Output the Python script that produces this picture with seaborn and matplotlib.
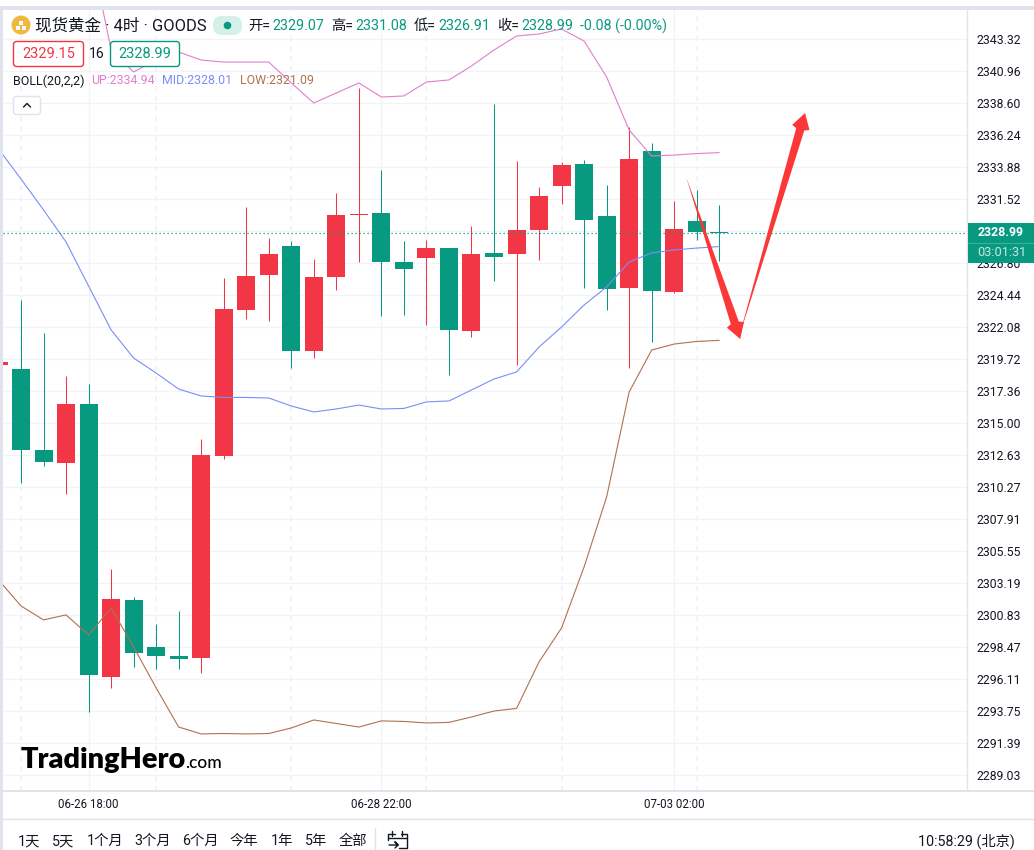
import numpy as np
import pandas as pd
import matplotlib.pyplot as plt
import seaborn as sns
from matplotlib.lines import Line2D
from matplotlib.patches import Circle, FancyBboxPatch, Polygon, Rectangle
from matplotlib.transforms import Affine2D, IdentityTransform

# --- data: 4h XAUUSD candles, oldest first (first one is cut by the left edge) ---
candle_idx = list(range(-1, 32))
opens = [2319.27, 2318.98, 2313.00, 2312.05, 2316.40, 2296.26, 2301.94, 2298.47, 2297.81, 2297.66, 2312.56,
         2323.33, 2325.91, 2328.05, 2320.31, 2325.77, 2330.34, 2330.49, 2326.87, 2327.17, 2327.90, 2321.78,
         2327.54, 2327.46, 2329.23, 2332.48, 2334.10, 2330.27, 2324.95, 2335.06, 2324.66, 2329.90, 2329.07]
highs = [2319.50, 2324.07, 2321.63, 2318.46, 2317.87, 2304.23, 2302.16, 2300.17, 2301.13, 2313.82, 2325.69,
         2330.93, 2328.64, 2328.42, 2327.09, 2331.96, 2339.71, 2333.66, 2328.42, 2328.49, 2327.90, 2329.53,
         2338.53, 2334.32, 2332.40, 2334.25, 2334.40, 2332.55, 2336.83, 2335.65, 2331.37, 2332.18, 2331.08]
lows = [2319.27, 2310.57, 2311.82, 2309.76, 2293.68, 2295.45, 2297.00, 2296.85, 2296.85, 2296.56, 2312.34,
        2322.67, 2322.52, 2319.05, 2319.79, 2324.81, 2326.87, 2322.89, 2322.96, 2322.23, 2318.54, 2321.34,
        2325.47, 2319.27, 2327.02, 2331.15, 2324.95, 2323.33, 2319.05, 2320.97, 2324.59, 2328.50, 2326.91]
closes = [2319.50, 2313.00, 2312.12, 2316.40, 2296.41, 2302.02, 2298.03, 2297.81, 2297.59, 2312.64, 2323.41,
          2325.84, 2327.46, 2320.31, 2325.77, 2330.34, 2330.41, 2326.87, 2326.36, 2327.90, 2321.86, 2327.46,
          2327.24, 2329.23, 2331.74, 2334.03, 2329.97, 2324.88, 2334.47, 2324.73, 2329.31, 2329.09, 2328.99]

# Bollinger bands, upper one is above the window for the first candles
boll_up = [np.nan, np.nan, np.nan, np.nan, 2350.62, 2342.51, 2340.89, 2341.77, 2342.36, 2341.77, 2341.62,
           2341.62, 2341.62, 2340.08, 2338.60, 2339.34, 2340.08, 2339.04, 2339.12, 2340.15, 2340.30, 2341.33,
           2342.51, 2343.54, 2343.69, 2344.06, 2343.17, 2340.52, 2336.61, 2334.69, 2334.76, 2334.87, 2334.94]
boll_mid = [2335.21, 2332.99, 2330.71, 2328.35, 2325.10, 2321.86, 2319.79, 2318.68, 2317.50, 2316.99, 2316.88,
            2316.88, 2316.84, 2316.25, 2315.81, 2316.03, 2316.32, 2316.03, 2316.07, 2316.55, 2316.62, 2317.43,
            2318.24, 2318.76, 2320.60, 2322.08, 2323.70, 2325.03, 2326.87, 2327.54, 2327.76, 2327.90, 2328.01]
boll_low = [2303.42, 2301.50, 2300.47, 2300.84, 2299.36, 2301.35, 2298.47, 2295.45, 2292.57, 2292.06, 2292.09,
            2292.06, 2292.09, 2292.50, 2293.09, 2292.83, 2292.57, 2293.02, 2292.98, 2292.87, 2292.91, 2293.31,
            2293.75, 2293.94, 2297.37, 2299.88, 2304.38, 2309.54, 2317.28, 2320.38, 2320.82, 2321.01, 2321.09]

y_ticks = [2343.32, 2340.96, 2338.60, 2336.24, 2333.88, 2331.52, 2329.16, 2326.80, 2324.44, 2322.08, 2319.72,
           2317.36, 2315.00, 2312.63, 2310.27, 2307.91, 2305.55, 2303.19, 2300.83, 2298.47, 2296.11, 2293.75,
           2291.39, 2289.03]
# 2329.16 sits behind the price tag, only its grid line shows
hidden_tick = 2329.16
x_tick_idx = [3, 16, 29]
x_tick_labels = ['06-26 18:00', '06-28 22:00', '07-03 02:00']
day_idx = [0, 6, 12, 18, 24, 30]
last_price = 2328.99

# hand drawn red arrows: (candle index, price)
arrow_down = [(29.53, 2333.14), (31.93, 2321.19)]
arrow_up = [(31.88, 2321.34), (34.81, 2337.86)]

ohlc_labels = ['开=', '高=', '低=', '收=']
ohlc_values = ['2329.07', '2331.08', '2326.91', '2328.99']
range_buttons = ['1天', '5天', '1个月', '3个月', '6个月', '今年', '1年', '5年', '全部']

RED = '#f23645'
GREEN = '#089981'
PINK = '#e07fcd'
BLUE = '#7b8ef7'
BROWN = '#b0714e'
GRID = '#f1f3f8'
FRAME = '#e0e3eb'
TXT = '#131722'

sns.set_theme(style='white')
plt.rcParams['font.family'] = ['Roboto', 'Noto Sans CJK SC', 'DejaVu Sans']

W, H = 1034, 850
fig = plt.figure(figsize=(W / 100, H / 100), dpi=100)
# image pixels, y going down
px = Affine2D().scale(1, -1).translate(0, H) + IdentityTransform()

ax = fig.add_axes([3 / W, (H - 791) / H, 964 / W, 781 / H])
ax.set_xlim(-0.8, 42.0)
ax.set_ylim(2287.85, 2345.46)
ax.set_axisbelow(True)

# grid and day separators
ax.set_yticks(y_ticks)
ax.set_yticklabels(['' if v == hidden_tick else '%.2f' % v for v in y_ticks])
ax.set_xticks(x_tick_idx)
ax.set_xticklabels(x_tick_labels)
ax.grid(True, color=GRID, lw=0.9)
for d in day_idx:
    ax.axvline(d, color=GRID, lw=1.5, ls=(0, (2.4, 2.4)), zorder=0.6)
ax.yaxis.tick_right()
ax.tick_params(axis='y', length=0, pad=7, labelsize=8.8, labelcolor=TXT)
ax.tick_params(axis='x', length=0, pad=5, labelsize=8.3, labelcolor=TXT)
for s in ['top', 'left']:
    ax.spines[s].set_visible(False)
ax.spines['right'].set_color(FRAME)
ax.spines['bottom'].set_color(FRAME)
ax.spines['bottom'].set_linewidth(1.4)
ax.spines['right'].set_linewidth(1.0)

# candles
df = pd.DataFrame({'idx': candle_idx, 'open': opens, 'high': highs, 'low': lows, 'close': closes})
df['color'] = np.where(df['close'] >= df['open'], RED, GREEN)
ax.vlines(df['idx'], df['low'], df['high'], colors=df['color'], lw=0.75, zorder=2)
ax.bar(df['idx'], (df['close'] - df['open']).abs(), bottom=df[['open', 'close']].min(axis=1),
       width=0.8, color=df['color'], linewidth=0, zorder=2.1)

# bollinger lines
bands = pd.DataFrame({'idx': candle_idx, 'UP': boll_up, 'MID': boll_mid, 'LOW': boll_low})
bands = bands.melt(id_vars='idx', var_name='band', value_name='price').dropna()
sns.lineplot(data=bands, x='idx', y='price', hue='band', estimator=None, legend=False,
             palette={'UP': PINK, 'MID': BLUE, 'LOW': BROWN}, lw=0.8, zorder=3, ax=ax)
ax.set_xlabel('')
ax.set_ylabel('')
ax.set_xlim(-0.8, 42.0)
ax.set_ylim(2287.85, 2345.46)

# last price line
ax.axhline(last_price, color=GREEN, lw=0.9, ls=(0, (1, 2.2)), zorder=3.2)


def tapered_arrow(start, tip, head_len=17, head_half=9, shaft_half=4.2):
    p0, p1 = ax.transData.transform([start, tip])
    d = (p1 - p0) / np.linalg.norm(p1 - p0)
    n = np.array([-d[1], d[0]])
    base = p1 - d * head_len
    neck = p1 - d * (head_len - 2)
    pts = [p0, base + n * shaft_half, neck + n * head_half, p1, neck - n * head_half, base - n * shaft_half]
    fig.add_artist(Polygon(pts, closed=True, facecolor='#fb3737', edgecolor='none', transform=IdentityTransform(),
                           zorder=1.5))


fig.canvas.draw()
tapered_arrow(*arrow_down)
tapered_arrow(*arrow_up)


# --- chrome around the chart, everything below is placed in image pixels ---
def label(x, y, s, color=TXT, size=10.1, ha='left', **kw):
    fig.text(x, y, s, color=color, fontsize=size, ha=ha, va='center', transform=px, zorder=6, **kw)


def rbox(x0, y0, x1, y1, edge, face='white', r=3, lw=1.0, z=4):
    fig.add_artist(FancyBboxPatch((x0, y0), x1 - x0, y1 - y0, boxstyle='round,pad=0,rounding_size=%d' % r,
                                  edgecolor=edge, facecolor=face, lw=lw, transform=px, zorder=z))


# frame bands
fig.add_artist(Rectangle((0, 6), W, 3.5, color=FRAME, lw=0, transform=px, zorder=2))
fig.add_artist(Rectangle((0, 6), 3, H, color=FRAME, lw=0, transform=px, zorder=2))
fig.add_artist(Line2D([3, W], [791, 791], color=FRAME, lw=1.4, transform=px))
fig.add_artist(Line2D([3, W], [819, 819], color=FRAME, lw=1.0, transform=px))

# title row
fig.add_artist(Circle((21, 25), 9.5, color='#f2b73f', lw=0, transform=px, zorder=4))
for cx, cy in [(18, 28), (24, 28), (21, 22.5)]:
    fig.add_artist(Rectangle((cx - 2.2, cy - 2), 4.4, 4, color='white', lw=0, transform=px, zorder=5))
label(35, 26, '现货黄金 · 4时 · GOODS', size=11.9)
rbox(213, 16, 242, 35, 'none', face='#d5efe9', r=9)
fig.add_artist(Circle((227.5, 25.5), 3.8, color=GREEN, lw=0, transform=px, zorder=5))

for x, s in zip([248, 331, 414, 497], ohlc_labels):
    label(x, 26, s, size=10.3)
for x, s in zip([272, 355, 438, 521], ohlc_values):
    label(x, 26, s, color=GREEN, size=10.3)
label(580, 26, '-0.08 (-0.00%)', color=GREEN, size=10.3)

# bid / ask boxes
rbox(13.5, 41.5, 83.5, 66.5, RED)
label(48.5, 54, '2329.15', color=RED, ha='center', size=10.5)
label(97, 54, '16', ha='center')
rbox(110.5, 41.5, 179.5, 66.5, GREEN)
label(145, 54, '2328.99', color=GREEN, ha='center', size=10.5)

# indicator row
label(13, 81, 'BOLL(20,2,2)', size=9.0)
label(91, 81, 'UP:2334.94', color=PINK, size=8.9)
label(162, 81, 'MID:2328.01', color=BLUE, size=8.9)
label(240, 81, 'LOW:2321.09', color=BROWN, size=8.9)
rbox(13.5, 96.5, 40.5, 114.5, FRAME)
fig.add_artist(Line2D([23.5, 27, 30.5], [107, 103.5, 107], color=TXT, lw=1.0, transform=px, zorder=5))

# last price tag
fig.add_artist(Rectangle((968, 223), 66, 40, color=GREEN, lw=0, transform=px, zorder=5))
fig.add_artist(Line2D([968, W], [243, 243], color='#3db09c', lw=0.8, transform=px, zorder=5.5))
label(978, 233, '2328.99', color='white', size=8.9, fontweight='bold')
label(977, 253, '03:01:31', color='#c6e8e2', size=9.2)

# watermark
label(21, 760, 'TradingHero', color='black', size=20.8, family='Lato', fontweight='heavy')
label(185, 763, '.com', color='black', size=12.5, family='Lato', fontweight='medium')

# bottom toolbar
for x, s in zip([18, 52, 87, 134, 182, 230, 271, 305, 339], range_buttons):
    label(x, 841, s, size=10.3)
fig.add_artist(Line2D([375, 375], [828, H], color=FRAME, lw=1.0, transform=px))
fig.add_artist(Line2D([401, 407, 407, 399], [834, 834, 848, 848], color=TXT, lw=1.0, transform=px))
fig.add_artist(Line2D([395, 388, 388], [834, 834, 840], color=TXT, lw=1.0, transform=px))
fig.add_artist(Line2D([388, 407], [838, 838], color=TXT, lw=1.0, transform=px))
fig.add_artist(Line2D([392, 392], [831, 836], color=TXT, lw=1.0, transform=px))
fig.add_artist(Line2D([402, 402], [831, 836], color=TXT, lw=1.0, transform=px))
fig.add_artist(Line2D([389, 398, 395, 398, 395], [845, 845, 842, 845, 848], color=TXT, lw=1.0, transform=px))
label(918, 841, '10:58:29 (北京)', size=10.3)

fig.savefig('out.png', dpi=100)
